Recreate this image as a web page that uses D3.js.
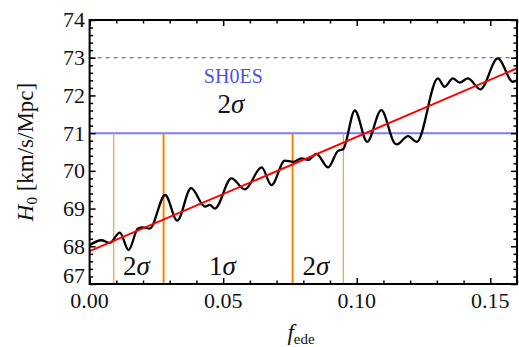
<!DOCTYPE html>
<html>
<head>
<meta charset="utf-8">
<script src="https://cdn.jsdelivr.net/npm/d3@7"></script>
<style>
  html, body { margin: 0; padding: 0; background: #fff; }
  svg { display: block; font-family: "Liberation Serif", "Times New Roman", serif; }
</style>
</head>
<body>
<div id="chart"></div>
<script>
// H0 vs f_ede (sampled off the reference curve)
const curveF = [0, 0.0044, 0.0075, 0.0113, 0.0146, 0.0181, 0.0200, 0.0225, 0.0283, 0.0328,
  0.0380, 0.0432, 0.0450, 0.0469, 0.0531, 0.0581, 0.0644, 0.0681, 0.0731, 0.0762,
  0.0793, 0.0818, 0.0849, 0.0893, 0.0930, 0.0949, 0.0993, 0.1039, 0.1092, 0.1142,
  0.1150, 0.1192, 0.1225, 0.1304, 0.1329, 0.1360, 0.1385, 0.1416, 0.1463, 0.1528,
  0.1585, 0.1600];
const curveH = [68.03, 68.16, 68.09, 68.36, 67.90, 68.47, 68.50, 68.47, 69.36, 68.68,
  69.54, 69.05, 69.10, 69.00, 69.80, 69.51, 70.09, 69.62, 70.27, 70.24,
  70.33, 70.29, 70.45, 70.09, 70.53, 70.57, 71.60, 70.77, 71.61, 70.73,
  70.70, 70.92, 70.77, 72.45, 72.23, 72.45, 72.34, 72.45, 72.16, 72.98,
  72.36, 72.40];

// linear fit
const fitF = [0, 0.16];
const fitH = [67.87, 72.72];

// SH0ES levels
const shoesCentral = 73;
const shoes2sigma = 71;

// sigma boundaries in f_ede
const twoSigmaBounds = [0.009, 0.095];
const oneSigmaBounds = [0.0277, 0.076];

const xMajorTicks = [0, 0.05, 0.10, 0.15];
const xTickLabels = ['0.00', '0.05', '0.10', '0.15'];
const yMajorTicks = [67, 68, 69, 70, 71, 72, 73, 74];

const width = 519, height = 347;
const margin = { top: 20, right: 2, bottom: 63, left: 89.6 };
const innerW = width - margin.left - margin.right;
const innerH = height - margin.top - margin.bottom;

const svg = d3.select('#chart').append('svg')
  .attr('width', width)
  .attr('height', height);

const g = svg.append('g')
  .attr('transform', `translate(${margin.left},${margin.top})`);

const x = d3.scaleLinear().domain([0, 0.16]).range([0, innerW]);
const y = d3.scaleLinear().domain([67, 74]).range([innerH, 0]);

// horizontal SH0ES lines
g.append('line')
  .attr('x1', 0).attr('x2', innerW)
  .attr('y1', y(shoesCentral)).attr('y2', y(shoesCentral))
  .attr('stroke', '#6a6aff').attr('stroke-width', 1.3)
  .attr('stroke-dasharray', '4,4');

g.append('line')
  .attr('x1', 0).attr('x2', innerW)
  .attr('y1', y(shoes2sigma)).attr('y2', y(shoes2sigma))
  .attr('stroke', '#7b7bff').attr('stroke-width', 2);

// vertical sigma boundaries
g.selectAll('.two-sig')
  .data(twoSigmaBounds)
  .enter().append('line')
  .attr('x1', d => x(d)).attr('x2', d => x(d))
  .attr('y1', y(shoes2sigma)).attr('y2', innerH)
  .attr('stroke', '#ffa040').attr('stroke-width', 1.3);

g.selectAll('.one-sig')
  .data(oneSigmaBounds)
  .enter().append('line')
  .attr('x1', d => x(d)).attr('x2', d => x(d))
  .attr('y1', y(shoes2sigma)).attr('y2', innerH)
  .attr('stroke', '#ff8000').attr('stroke-width', 2);

// wiggly curve
const pts = curveF.map((f, i) => ({ f: f, h: curveH[i] }));
g.append('path')
  .datum(pts)
  .attr('fill', 'none')
  .attr('stroke', '#000')
  .attr('stroke-width', 2.3)
  .attr('d', d3.line().x(d => x(d.f)).y(d => y(d.h)).curve(d3.curveMonotoneX));

// fit line
g.append('path')
  .datum(fitF.map((f, i) => ({ f: f, h: fitH[i] })))
  .attr('fill', 'none')
  .attr('stroke', '#ff0000')
  .attr('stroke-width', 2)
  .attr('d', d3.line().x(d => x(d.f)).y(d => y(d.h)));

// annotations
g.append('text')
  .attr('x', x(0.0538)).attr('y', y(72.33))
  .attr('text-anchor', 'middle')
  .style('font-size', '20px').style('fill', '#5050e6')
  .text('SH0ES');

function sigmaLabel(n, f, h) {
  const t = g.append('text')
    .attr('x', x(f)).attr('y', y(h))
    .attr('text-anchor', 'middle')
    .style('font-size', '27px').style('fill', '#111');
  t.append('tspan').text(n);
  t.append('tspan').style('font-style', 'italic').text('\u03C3');
}
sigmaLabel('2', 0.0529, 71.53);
sigmaLabel('2', 0.0175, 67.25);
sigmaLabel('1', 0.0497, 67.25);
sigmaLabel('2', 0.0847, 67.25);

// frame
g.append('rect')
  .attr('width', innerW).attr('height', innerH)
  .attr('fill', 'none').attr('stroke', '#000').attr('stroke-width', 2);

// ticks (inward, all four sides)
const xMinor = d3.range(0, 0.1601, 0.01).filter(v => !xMajorTicks.some(m => Math.abs(m - v) < 1e-6));
const yMinor = d3.range(67, 74.001, 0.2).filter(v => Math.abs(v - Math.round(v)) > 1e-6);

function tickAxes(axisFn, scale, major, minor, transform) {
  const a1 = g.append('g').attr('transform', transform)
    .call(axisFn(scale).tickValues(major).tickSizeInner(-6).tickSizeOuter(0).tickFormat(''));
  const a2 = g.append('g').attr('transform', transform)
    .call(axisFn(scale).tickValues(minor).tickSizeInner(-3.5).tickSizeOuter(0).tickFormat(''));
  [a1, a2].forEach(a => {
    a.select('.domain').remove();
    a.selectAll('line').attr('stroke', '#000').attr('stroke-width', 1.5);
  });
}
tickAxes(d3.axisBottom, x, xMajorTicks, xMinor, `translate(0,${innerH})`);
tickAxes(d3.axisTop, x, xMajorTicks, xMinor, 'translate(0,0)');
tickAxes(d3.axisLeft, y, yMajorTicks, yMinor, 'translate(0,0)');
tickAxes(d3.axisRight, y, yMajorTicks, yMinor, `translate(${innerW},0)`);

// tick labels
g.selectAll('.xl')
  .data(xMajorTicks)
  .enter().append('text')
  .attr('x', d => x(d)).attr('y', innerH + 24)
  .attr('text-anchor', 'middle')
  .style('font-size', '22px').style('fill', '#111')
  .text((d, i) => xTickLabels[i]);

// the lowest label is nudged up so it clears "0.00"
g.selectAll('.yl')
  .data(yMajorTicks)
  .enter().append('text')
  .attr('x', -4.5).attr('y', d => y(d) - (d === 67 ? 8 : 0))
  .attr('dy', '0.34em')
  .attr('text-anchor', 'end')
  .style('font-size', '22px').style('fill', '#111')
  .text(d => d);

// axis titles
const xt = svg.append('text')
  .attr('x', 301).attr('y', 340)
  .attr('text-anchor', 'middle')
  .style('fill', '#111');
xt.append('tspan').style('font-style', 'italic').style('font-size', '23px').text('f');
xt.append('tspan').attr('dy', 4).style('font-size', '15px').text('ede');

const yt = svg.append('text')
  .attr('transform', 'translate(33,152) rotate(-90)')
  .attr('text-anchor', 'middle')
  .style('font-size', '23px').style('fill', '#111');
yt.append('tspan').style('font-style', 'italic').text('H');
yt.append('tspan').attr('dy', 4).style('font-size', '15px').text('0');
yt.append('tspan').attr('dy', -4).text(' [km/s/Mpc]');
</script>
</body>
</html>
